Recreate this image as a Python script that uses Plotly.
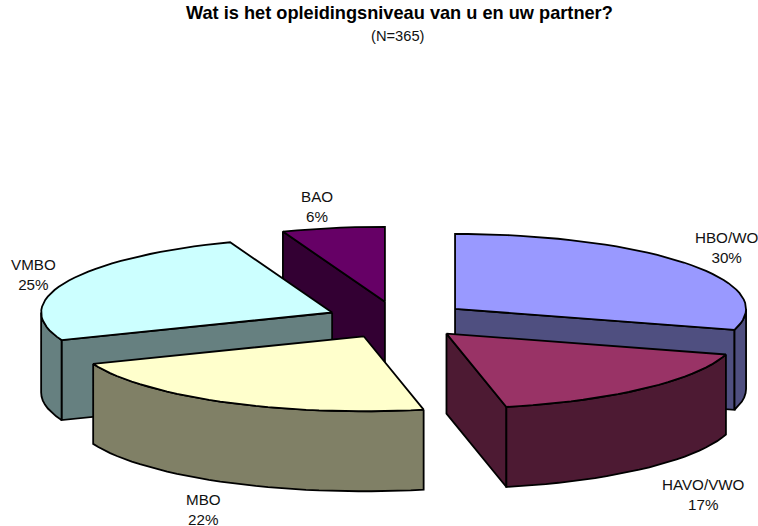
import numpy as np
import plotly.graph_objects as go

categories = ["HBO/WO", "HAVO/VWO", "MBO", "VMBO", "BAO"]
percentages = [29.5, 17.2, 22.3, 25.3, 5.7]
title_text = "Wat is het opleidingsniveau van u en uw partner?"
subtitle_text = "(N=365)"

top_colors = ["#9999FF", "#993366", "#FFFFCC", "#CCFFFF", "#660066"]
wall_colors = ["#4F4F80", "#4D1A33", "#808066", "#668080", "#330033"]
draw_order = [4, 3, 2, 0, 1]
label_pos = [(726, 247.5), (703, 494), (203.5, 509.5), (33, 274), (316.5, 206)]

W, H = 758, 526
CX, CY, RX, RY, DEPTH, EXPLODE = 397.7, 320.0, 291.0, 75.0, 80.0, 0.2465

fractions = np.array(percentages, dtype=float) / sum(percentages)
edges = np.concatenate([[0], np.cumsum(fractions)]) * 2 * np.pi


def rim(theta, ax, ay):
    return ax + RX * np.sin(theta), ay - RY * np.cos(theta)


fig = go.Figure()


def face(xs, ys, color):
    fig.add_trace(go.Scatter(
        x=list(xs) + [xs[0]], y=list(ys) + [ys[0]], mode="lines", fill="toself",
        fillcolor=color, line=dict(color="black", width=1.8),
        hoverinfo="skip", showlegend=False))


for i in draw_order:
    t0, t1 = edges[i], edges[i + 1]
    mid = (t0 + t1) / 2
    ax = CX + EXPLODE * RX * np.sin(mid)
    ay = CY - EXPLODE * RY * np.cos(mid)
    mx, my = RX * np.sin(mid), -RY * np.cos(mid)
    thetas = np.linspace(t0, t1, max(3, int(np.degrees(t1 - t0) / 2.5)))

    # cut faces that look toward the viewer
    for t in (t0, t1):
        px, py = rim(t, ax, ay)
        vx, vy = px - ax, py - ay
        if abs(vx) < 1e-6:
            continue
        cross = vx * my - vy * mx
        if (vx > 0 and cross < 0) or (vx < 0 and cross > 0):
            face([ax, px, px, ax], [ay, py, py + DEPTH, ay + DEPTH], wall_colors[i])

    # outer wall on the front half of the ellipse
    lo, hi = max(t0, np.pi / 2), min(t1, 1.5 * np.pi)
    if hi > lo:
        ts = np.linspace(lo, hi, max(3, int(np.degrees(hi - lo) / 2.5)))
        rx_, ry_ = rim(ts, ax, ay)
        face(np.concatenate([rx_, rx_[::-1]]),
             np.concatenate([ry_, ry_[::-1] + DEPTH]), wall_colors[i])

    # top surface
    rx_, ry_ = rim(thetas, ax, ay)
    face(np.concatenate([[ax], rx_]), np.concatenate([[ay], ry_]), top_colors[i])

font = "Liberation Sans, Arial, sans-serif"
annotations = [
    dict(x=399, y=13, text="<b>%s</b>" % title_text, font=dict(size=18.2, color="black", family=font)),
    dict(x=397, y=36, text=subtitle_text, font=dict(size=14.7, color="#111111", family=font)),
]
for (lx, ly), c, v in zip(label_pos, categories, percentages):
    annotations.append(dict(x=lx, y=ly, text="%s<br>%d%%" % (c, int(v + 0.5)),
                            font=dict(size=15.2, color="#111111", family=font)))
for a in annotations:
    a.update(xref="x", yref="y", showarrow=False, xanchor="center", yanchor="middle")

fig.update_layout(
    width=W, height=H, margin=dict(l=0, r=0, t=0, b=0),
    paper_bgcolor="white", plot_bgcolor="white", annotations=annotations,
    xaxis=dict(range=[0, W], visible=False, fixedrange=True),
    yaxis=dict(range=[H, 0], visible=False, fixedrange=True),
)
fig.write_html("out.html", config={"displayModeBar": False},
               post_script="document.body.style.margin='0';document.body.style.overflow='hidden';")
